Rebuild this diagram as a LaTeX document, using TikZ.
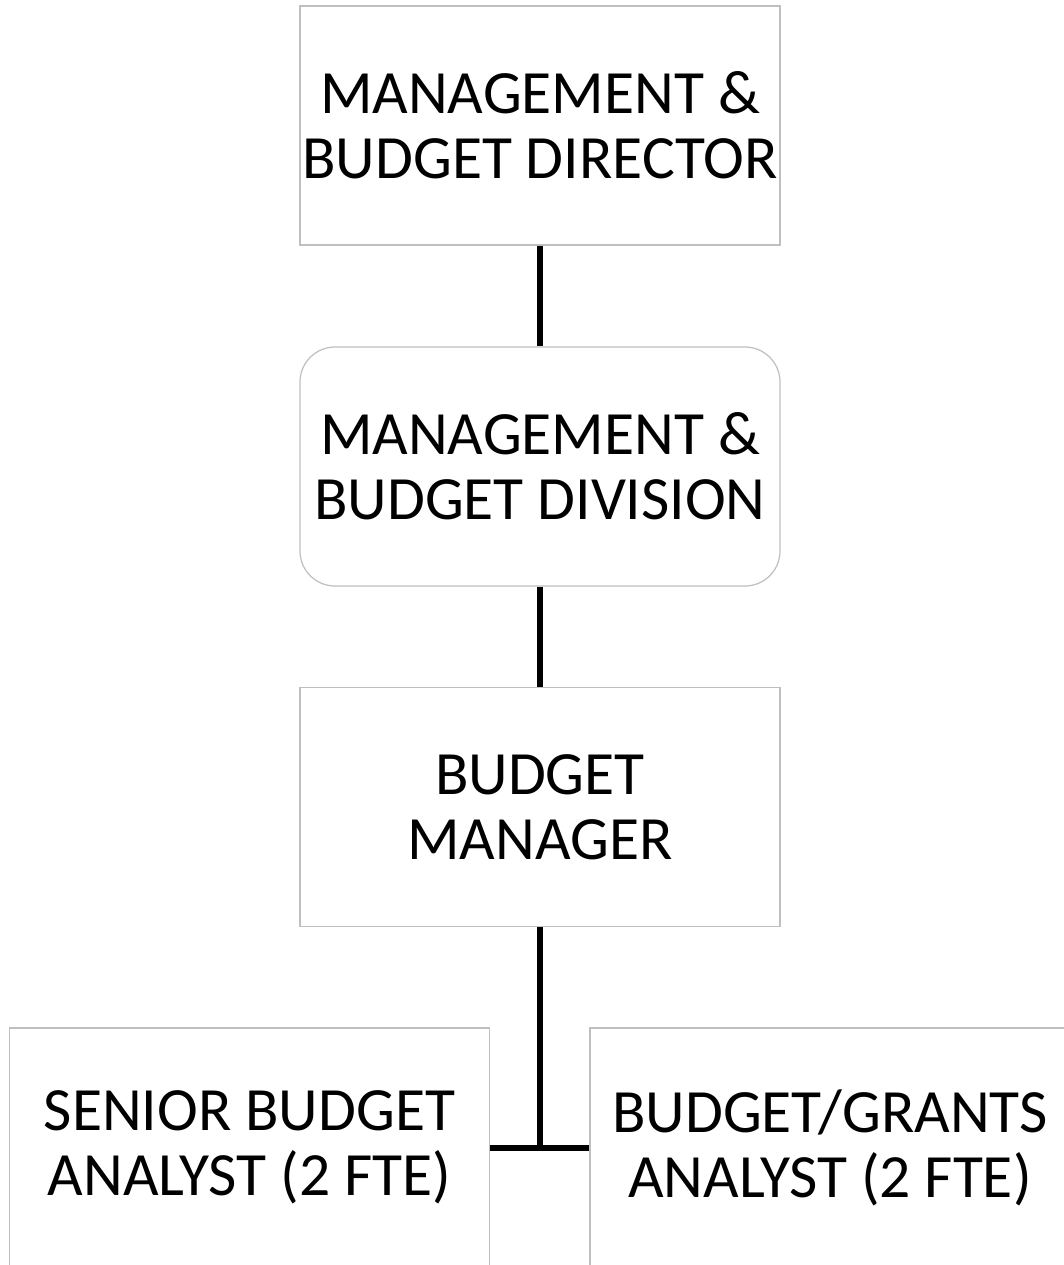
\documentclass[tikz,border=0pt]{standalone}
\usepackage{fontspec}
\setmainfont{Carlito}
\begin{document}
\begin{tikzpicture}[
    caja/.style={draw=gray!50, line width=0.7pt, minimum width=9.6cm,
        minimum height=4.78cm, align=center, inner sep=0pt,
        font=\fontsize{35}{37}\selectfont},
    linea/.style={line width=3.4pt}]

    \useasboundingbox (0,0) rectangle (21.28,-25.3);
    \clip (0,0) rectangle (21.28,-25.3);

    \node[caja] (director) at (10.8,-2.51) {MANAGEMENT \&\\BUDGET DIRECTOR};
    \node[caja, rounded corners=0.7cm] (division) at (10.8,-9.33) {MANAGEMENT \&\\BUDGET DIVISION};
    \node[caja] (manager) at (10.8,-16.14) {BUDGET\\MANAGER};

    \node[caja] (senior) at (4.99,-22.95) {SENIOR BUDGET\\ANALYST (2 FTE)};
    \node[caja] (grants) at (16.6,-22.95) {BUDGET/GRANTS\\ANALYST (2 FTE)};

    \draw[linea] (director) -- (division);
    \draw[linea] (division) -- (manager);
    \draw[linea] (senior) -- (grants); %rama
    \draw[linea] (manager.south) -- (manager.south |- senior.east);

\end{tikzpicture}
\end{document}
